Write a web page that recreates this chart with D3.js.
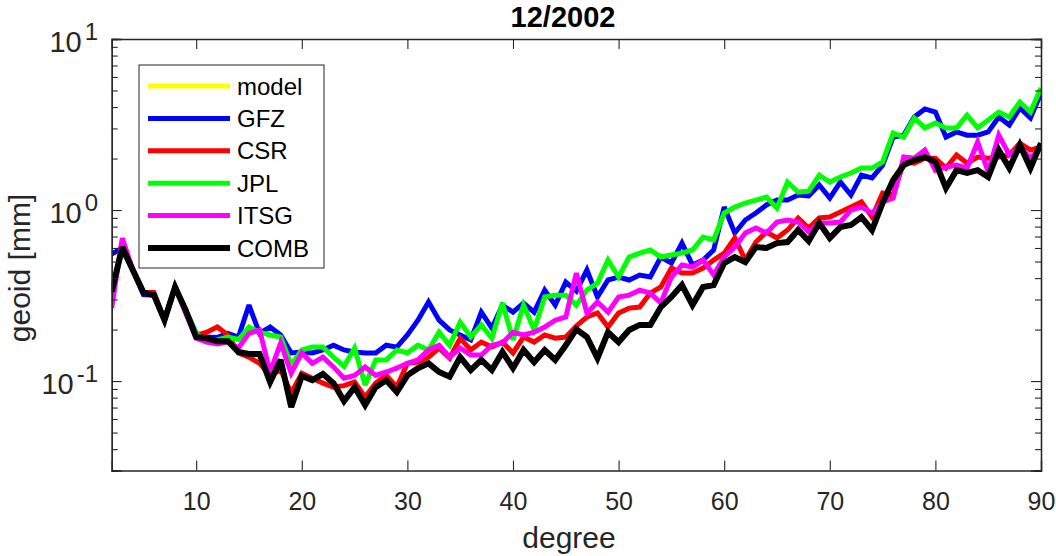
<!DOCTYPE html>
<html>
<head>
<meta charset="utf-8">
<script src="https://cdn.jsdelivr.net/npm/d3@7"></script>
<style>
  html, body { margin: 0; padding: 0; background: #fff; }
  svg { display: block; font-family: "Liberation Sans", Arial, sans-serif; }
</style>
</head>
<body>
<svg id="chart" width="1056" height="556"></svg>
<script>
// ---------------- data ----------------
const degrees = d3.range(2, 91);
const title = "12/2002";
const xLabel = "degree";
const yLabel = "geoid [mm]";
const xTicks = [10, 20, 30, 40, 50, 60, 70, 80, 90];
const yMajorTicks = [0.1, 1, 10];
const seriesNames = ["model", "GFZ", "CSR", "JPL", "ITSG", "COMB"];
const seriesColors = ["#ffff00", "#0000ff", "#ff0000", "#00ff00", "#ff00ff", "#000000"];

const GFZ = [0.553,0.60,0.446,0.32,0.318,0.227,0.355,0.26,0.19,0.181,0.18,0.19,0.181,0.278,0.19,0.207,0.186,0.146,0.148,0.146,0.152,0.162,0.152,0.148,0.146,0.146,0.162,0.158,0.186,0.227,0.29,0.227,0.199,0.186,0.174,0.253,0.204,0.278,0.253,0.286,0.253,0.34,0.278,0.379,0.336,0.446,0.31,0.39,0.406,0.39,0.417,0.406,0.531,0.49,0.641,0.477,0.51,0.584,1.041,0.734,0.874,0.96,1.07,1.144,1.144,1.224,1.21,1.40,1.175,1.458,1.224,1.60,1.54,1.83,2.67,2.74,3.5,3.9,3.74,2.67,2.86,2.74,2.74,2.86,3.5,3.14,3.95,3.45,4.83];
const CSR = [0.333,0.60,0.446,0.33,0.33,0.227,0.355,0.26,0.185,0.193,0.207,0.186,0.146,0.138,0.127,0.108,0.116,0.085,0.111,0.104,0.0973,0.0922,0.094,0.0987,0.0806,0.0973,0.108,0.0922,0.127,0.129,0.138,0.156,0.136,0.178,0.152,0.169,0.158,0.169,0.146,0.181,0.169,0.186,0.178,0.181,0.21,0.237,0.25,0.207,0.25,0.267,0.271,0.327,0.355,0.458,0.428,0.428,0.458,0.51,0.56,0.686,0.51,0.65,0.744,0.686,0.764,0.898,0.785,0.898,0.91,0.973,1.041,1.114,0.91,1.257,1.224,1.91,1.88,2.01,2.01,1.76,2.10,1.88,2.04,2.01,2.04,2.10,2.46,2.24,2.34];
const JPL = [0.333,0.58,0.446,0.33,0.318,0.227,0.355,0.26,0.19,0.169,0.174,0.181,0.175,0.207,0.193,0.186,0.181,0.124,0.152,0.158,0.158,0.138,0.122,0.156,0.0947,0.133,0.133,0.152,0.146,0.162,0.152,0.193,0.162,0.221,0.181,0.213,0.178,0.286,0.174,0.278,0.199,0.31,0.318,0.318,0.278,0.34,0.374,0.51,0.406,0.531,0.56,0.584,0.531,0.546,0.56,0.584,0.695,0.668,0.96,1.04,1.099,1.144,1.19,1.027,1.458,1.274,1.29,1.60,1.458,1.56,1.646,1.76,1.76,1.91,2.82,2.67,3.45,3.02,3.23,3.02,3.02,3.59,3.02,3.36,3.74,3.5,4.28,3.74,5.17];
const ITSG = [0.267,0.686,0.446,0.33,0.318,0.227,0.355,0.25,0.178,0.169,0.165,0.169,0.156,0.19,0.199,0.113,0.167,0.111,0.146,0.127,0.138,0.121,0.104,0.108,0.121,0.108,0.113,0.119,0.127,0.133,0.152,0.162,0.138,0.156,0.142,0.142,0.162,0.167,0.193,0.186,0.193,0.207,0.227,0.237,0.428,0.25,0.29,0.253,0.31,0.318,0.34,0.327,0.286,0.406,0.477,0.464,0.51,0.417,0.531,0.607,0.734,0.785,0.734,0.851,0.874,0.851,0.744,0.84,0.84,0.851,1.0,1.04,0.96,1.114,1.175,2.04,2.01,2.24,1.71,1.78,1.83,1.76,2.5,1.67,2.74,2.10,2.34,2.01,2.34];
const COMB = [0.333,0.607,0.446,0.33,0.318,0.227,0.355,0.26,0.181,0.178,0.171,0.171,0.148,0.144,0.144,0.0987,0.133,0.0705,0.107,0.1013,0.11,0.0973,0.0764,0.0922,0.0724,0.0922,0.101,0.0863,0.108,0.119,0.127,0.113,0.106,0.138,0.116,0.133,0.116,0.148,0.119,0.152,0.129,0.152,0.133,0.162,0.201,0.181,0.136,0.193,0.169,0.199,0.213,0.213,0.271,0.31,0.364,0.278,0.355,0.364,0.49,0.531,0.496,0.607,0.60,0.641,0.65,0.764,0.659,0.84,0.686,0.795,0.817,0.91,0.764,1.099,1.498,1.83,1.96,2.04,1.91,1.345,1.71,1.65,1.71,1.56,2.24,1.76,2.4,1.76,2.46];
const model = [0.333,0.607,0.446,0.33,0.318,0.227,0.355,0.26,0.181,0.178,0.171,0.171,0.148,0.144,0.144,0.0987,0.133,0.0705,0.107,0.1013,0.11,0.0973,0.0764,0.0922,0.0724,0.0922,0.101,0.0863,0.108,0.119,0.127,0.113,0.106,0.138,0.116,0.133,0.116,0.148,0.119,0.152,0.129,0.152,0.133,0.162,0.201,0.181,0.136,0.193,0.169,0.199,0.213,0.213,0.271,0.31,0.364,0.278,0.355,0.364,0.49,0.531,0.496,0.607,0.60,0.641,0.65,0.764,0.659,0.84,0.686,0.795,0.817,0.91,0.764,1.099,1.498,1.83,1.96,2.04,1.91,1.345,1.71,1.65,1.71,1.56,2.24,1.76,2.4,1.76,2.46];

const seriesValues = [model, GFZ, CSR, JPL, ITSG, COMB];

// ---------------- layout ----------------
const svg = d3.select("#chart");
const margin = { left: 111.7, right: 1056 - 1041, top: 39, bottom: 556 - 470.5 };
const W = 1056, H = 556;
const axisColor = "#262626";

const x = d3.scaleLinear().domain([2, 90]).range([margin.left, W - margin.right]);
const y = d3.scaleLog().domain([0.03, 10]).range([H - margin.bottom, margin.top]);

const clipId = "plotclip";
svg.append("defs").append("clipPath").attr("id", clipId)
  .append("rect")
  .attr("x", x.range()[0]).attr("y", y.range()[1])
  .attr("width", x.range()[1] - x.range()[0])
  .attr("height", y.range()[0] - y.range()[1]);

// lines
const line = d3.line().x((d, i) => x(degrees[i])).y(d => y(d));
const plot = svg.append("g").attr("clip-path", `url(#${clipId})`);
seriesValues.forEach((vals, k) => {
  plot.append("path")
    .datum(vals)
    .attr("fill", "none")
    .attr("stroke", seriesColors[k])
    .attr("stroke-width", seriesNames[k] === "COMB" ? 6 : 5)
    .attr("stroke-linejoin", "miter")
    .attr("stroke-miterlimit", 3)
    .attr("d", line);
});

// axes (MATLAB-style, inward ticks, box)
const tickFont = 25;
const major = 10, minor = 6;

const xAxisBottom = d3.axisBottom(x).tickValues(xTicks).tickSize(-major).tickPadding(major + 12).tickFormat(d3.format("d"));
const xAxisTop = d3.axisTop(x).tickValues(xTicks).tickSize(-major).tickFormat("");
const gxb = svg.append("g").attr("transform", `translate(0,${y.range()[0]})`).call(xAxisBottom);
const gxt = svg.append("g").attr("transform", `translate(0,${y.range()[1]})`).call(xAxisTop);

// y minor ticks
const yMinor = [];
[0.01, 0.1, 1].forEach(base => { for (let m = 2; m <= 9; m++) { const v = +(base * m).toPrecision(3); if (v >= 0.03 && v < 10) yMinor.push(v); } });

const yAxisLeftMajor = d3.axisLeft(y).tickValues(yMajorTicks).tickSize(-major).tickFormat("");
const yAxisLeftMinor = d3.axisLeft(y).tickValues(yMinor).tickSize(-minor).tickFormat("");
const yAxisRightMajor = d3.axisRight(y).tickValues(yMajorTicks).tickSize(-major).tickFormat("");
const yAxisRightMinor = d3.axisRight(y).tickValues(yMinor).tickSize(-minor).tickFormat("");
const gyl = svg.append("g").attr("transform", `translate(${x.range()[0]},0)`);
gyl.append("g").call(yAxisLeftMajor);
gyl.append("g").call(yAxisLeftMinor);
const gyr = svg.append("g").attr("transform", `translate(${x.range()[1]},0)`);
gyr.append("g").call(yAxisRightMajor);
gyr.append("g").call(yAxisRightMinor);

svg.selectAll(".domain").attr("stroke", axisColor).attr("stroke-width", 1.3);
svg.selectAll(".tick line").attr("stroke", axisColor).attr("stroke-width", 1.1);
gxb.selectAll(".tick text")
  .attr("fill", axisColor)
  .attr("font-size", tickFont)
  .attr("font-family", "Liberation Sans, Arial, sans-serif");

// y tick labels with superscripts
yMajorTicks.forEach(v => {
  const e = Math.round(Math.log10(v));
  const t = svg.append("text")
    .attr("x", 98)
    .attr("y", y(v) + 13)
    .attr("text-anchor", "end")
    .attr("fill", axisColor)
    .attr("font-size", 29);
  t.append("tspan").text("10");
  t.append("tspan").attr("dx", 3).attr("dy", -12).attr("font-size", 24).text(e < 0 ? "-" + Math.abs(e) : String(e));
});

// labels
svg.append("text")
  .attr("x", 569)
  .attr("y", 548)
  .attr("text-anchor", "middle")
  .attr("fill", axisColor)
  .attr("font-size", 30)
  .text(xLabel);

svg.append("text")
  .attr("transform", `translate(30,268) rotate(-90)`)
  .attr("text-anchor", "middle")
  .attr("fill", axisColor)
  .attr("font-size", 30)
  .text(yLabel);

svg.append("text")
  .attr("x", 563)
  .attr("y", 27)
  .attr("text-anchor", "middle")
  .attr("fill", "#000")
  .attr("font-size", 29)
  .attr("font-weight", "bold")
  .text(title);

// legend
const lg = svg.append("g");
const lgBox = { x: 139, y: 65, w: 185, h: 203 };
lg.append("rect")
  .attr("x", lgBox.x).attr("y", lgBox.y).attr("width", lgBox.w).attr("height", lgBox.h)
  .attr("fill", "#fff").attr("stroke", axisColor).attr("stroke-width", 1);
const rowY = d3.scalePoint().domain(seriesNames).range([86, 248]);
seriesNames.forEach((n, k) => {
  lg.append("line")
    .attr("x1", 148).attr("x2", 230)
    .attr("y1", rowY(n)).attr("y2", rowY(n))
    .attr("stroke", seriesColors[k])
    .attr("stroke-width", n === "COMB" ? 6 : 5);
  lg.append("text")
    .attr("x", 237).attr("y", rowY(n) + 8.5)
    .attr("fill", "#000")
    .attr("font-size", 24)
    .text(n);
});
</script>
</body>
</html>
